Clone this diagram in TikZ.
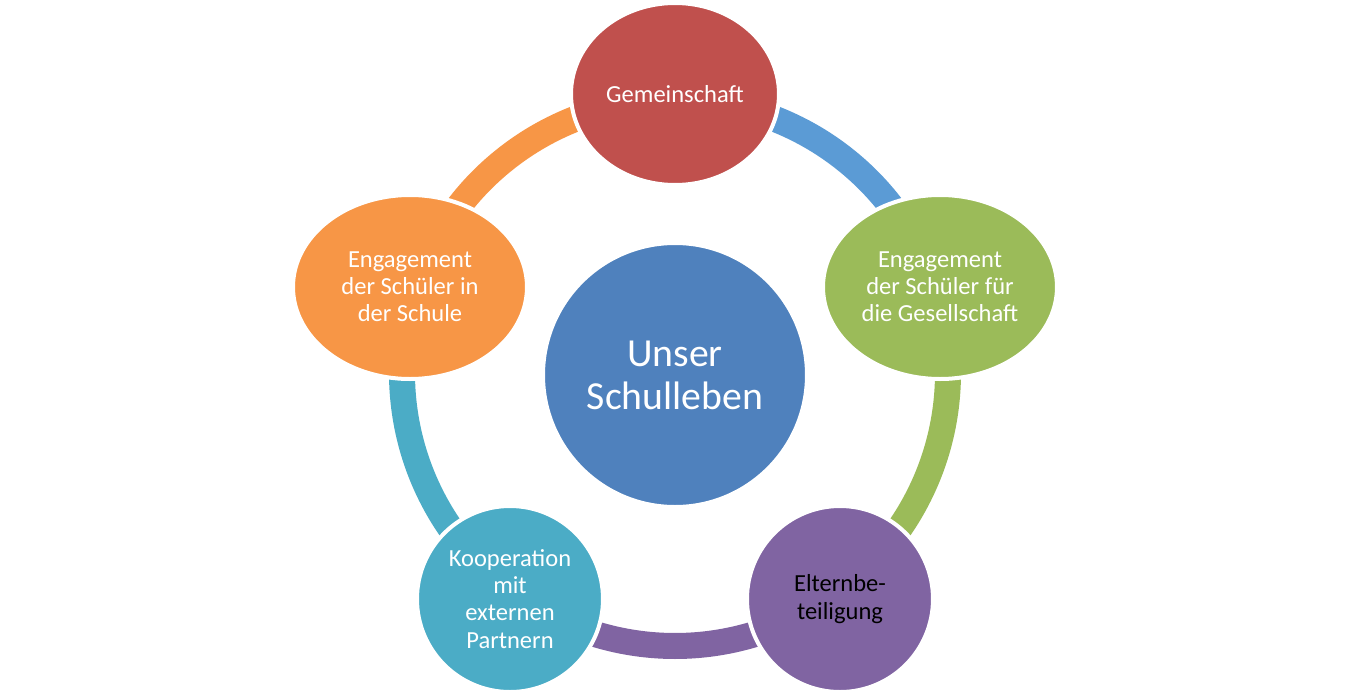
\documentclass[tikz,border=0pt]{standalone}
\usepackage{fontspec}
\setmainfont{Carlito}
\usepackage{tikz}
\usetikzlibrary{shapes.geometric}
\definecolor{gemred}{HTML}{C0504D}
\definecolor{ringblue}{HTML}{5B9BD5}
\definecolor{socgreen}{HTML}{9BBB59}
\definecolor{parpurple}{HTML}{8064A2}
\definecolor{extteal}{HTML}{4BACC6}
\definecolor{schorange}{HTML}{F79646}
\definecolor{hubblue}{HTML}{4F81BD}

\begin{document}
\begin{tikzpicture}[x=0.75pt, y=0.75pt,
        topic/.style={ellipse, draw=white, line width=3pt, inner sep=0pt, align=center, text=white, font=\fontsize{18.4}{20.4}\selectfont},
        hub/.style={circle, draw=white, line width=3pt, inner sep=0pt, align=center, text=white, fill=hubblue, minimum size=198pt, font=\fontsize{29.8}{32.2}\selectfont},
        ring/.style={line width=19.5pt}]

        \useasboundingbox (-675,-324) rectangle (678,373);
        \coordinate (ringc) at (0,0);

        % Ring segments
        \draw[ring, ringblue] (ringc) ++(71:273) arc (71:37:273);
        \draw[ring, socgreen] (ringc) ++(-1:273) arc (-1:-35:273);
        \draw[ring, parpurple] (ringc) ++(-73:273) arc (-73:-107:273);
        \draw[ring, extteal] (ringc) ++(215:273) arc (215:181:273);
        \draw[ring, schorange] (ringc) ++(143:273) arc (143:109:273);

        % Centre
        \node[hub] (HUB) at (0,-2) {Unser\\Schulleben};

        % Outer nodes
        \node[topic, fill=gemred, minimum width=156pt, minimum height=136.5pt] (GEM) at (0,279) {Gemeinschaft};
        \node[topic, fill=socgreen, minimum width=175.5pt, minimum height=138pt] (SOC) at (265,86) {Engagement\\der Schüler für\\die Gesellschaft};
        \node[topic, fill=parpurple, minimum width=139.5pt, minimum height=139.5pt, text=black] (PAR) at (165,-226) {Elternbe-\\teiligung};
        \node[topic, fill=extteal, minimum width=139.5pt, minimum height=139.5pt] (EXT) at (-165,-226) {Kooperation\\mit\\externen\\Partnern};
        \node[topic, fill=schorange, minimum width=175.5pt, minimum height=138pt] (SCH) at (-265,86) {Engagement\\der Schüler in\\der Schule};

    \end{tikzpicture}
\end{document}
